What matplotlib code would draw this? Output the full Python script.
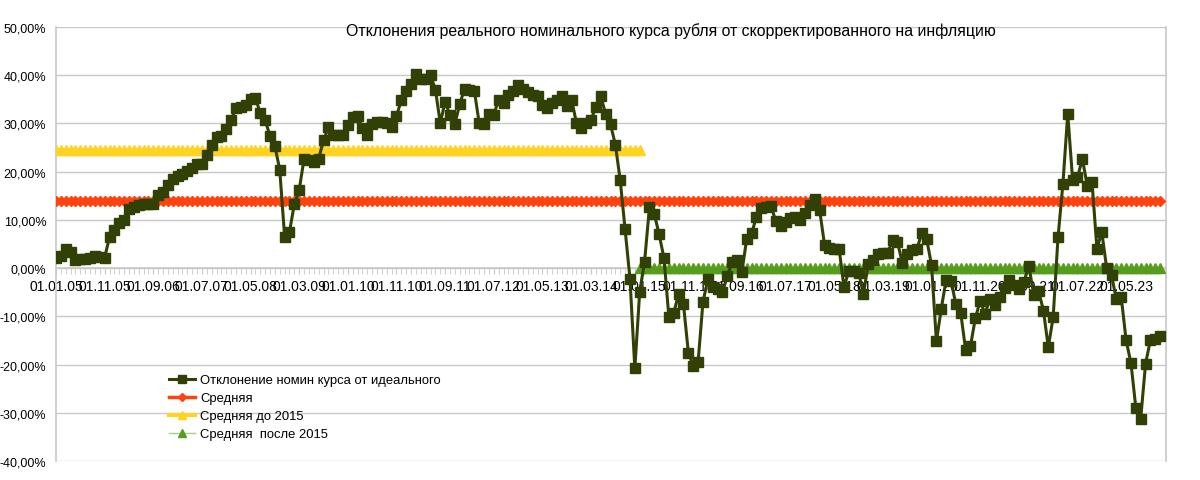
import matplotlib
matplotlib.use("Agg")
import matplotlib.pyplot as plt
import numpy as np

plt.rcParams['font.family'] = ['Liberation Sans', 'DejaVu Sans']

title = "Отклонения реального номинального курса рубля от скорректированного на инфляцию"
series_names = ["Отклонение номин курса от идеального", "Средняя", "Средняя до 2015", "Средняя  после 2015"]

# monthly deviation values, %, from 01.01.05 to 01.12.23
deviation = [
    2.1, 2.6, 3.9, 3.3, 1.7, 1.8, 1.9, 2.1, 2.6, 2.4,
    2.2, 6.4, 7.8, 9.4, 9.9, 12.3, 12.7, 13.0, 13.2, 13.3,
    13.2, 15.2, 15.8, 17.2, 18.4, 19.2, 19.6, 20.1, 20.8, 21.5,
    21.5, 23.5, 25.5, 27.2, 27.4, 28.9, 30.7, 33.1, 33.4, 33.9,
    35.0, 35.2, 32.2, 30.7, 27.4, 25.3, 20.4, 6.5, 7.5, 13.3,
    16.2, 22.7, 22.4, 22.1, 22.7, 26.5, 29.2, 27.7, 27.5, 27.7,
    29.7, 31.4, 31.5, 29.0, 27.6, 29.8, 30.2, 30.4, 30.0, 29.3,
    31.6, 34.8, 36.7, 38.1, 40.2, 39.3, 39.3, 40.0, 37.0, 30.1,
    34.5, 31.7, 29.9, 34.0, 37.2, 37.0, 36.8, 30.1, 29.9, 32.0,
    31.8, 34.9, 34.3, 35.8, 36.7, 38.0, 37.2, 36.6, 36.0, 35.7,
    33.9, 33.2, 34.3, 34.9, 35.6, 33.6, 34.9, 30.1, 29.1, 30.1,
    30.8, 33.4, 35.6, 32.0, 29.8, 25.6, 18.2, 8.1, -2.2, -20.8,
    -4.9, 1.3, 12.6, 11.2, 7.0, 2.0, -10.2, -9.3, -5.3, -7.5,
    -17.5, -20.2, -19.5, -7.1, -2.3, -4.0, -4.4, -5.0, -1.7, 1.3,
    1.7, -0.9, 6.1, 7.2, 10.6, 12.5, 12.6, 12.8, 9.7, 8.7,
    9.5, 10.3, 10.5, 10.0, 11.4, 13.0, 14.3, 12.0, 4.8, 4.1,
    4.0, 4.0, -4.0, -0.5, -0.5, -1.0, -5.3, 0.9, 1.7, 3.0,
    3.2, 3.2, 5.8, 5.4, 1.0, 3.0, 3.8, 4.0, 7.3, 6.0,
    0.6, -15.2, -8.4, -2.4, -2.6, -7.5, -9.3, -16.9, -16.2, -10.4,
    -6.8, -9.5, -6.4, -7.6, -5.9, -4.1, -2.4, -3.5, -4.3, -2.8,
    0.5, -5.5, -4.7, -8.8, -16.4, -10.2, 6.4, 17.4, 32.0, 18.3,
    18.8, 22.7, 17.1, 17.8, 4.0, 7.5, 0.0, -1.5, -6.5, -6.0,
    -15.0, -19.7, -29.0, -31.2, -19.8, -14.9, -14.7, -14.0,
]
mean_all = 14.0
mean_before_2015 = 24.5
mean_after_2015 = 0.0
split_index = 120  # 01.01.15

# month labels dd.mm.yy
months = []
for i in range(len(deviation)):
    y = 2005 + i // 12
    m = i % 12 + 1
    months.append(f"01.{m:02d}.{y % 100:02d}")

x = np.arange(len(deviation))

fig = plt.figure(figsize=(12, 4.81), dpi=100)
ax = fig.add_axes([56/1200, 1 - 462/481, (1166 - 56)/1200, (462 - 28)/481])

c_main = "#314004"
c_red = "#ff420e"
c_yel = "#ffd320"
c_grn = "#579d1c"

ax.plot(x, [mean_all]*len(x), color=c_red, lw=2.5, marker='D', ms=5.5, mec=c_red, mfc=c_red, label=series_names[1], zorder=3)
xb = x[:split_index + 1]
ax.plot(xb, [mean_before_2015]*len(xb), color=c_yel, lw=3, marker='^', ms=6.5, mec=c_yel, mfc=c_yel, label=series_names[2], zorder=3)
xa = x[split_index:]
ax.plot(xa, [mean_after_2015]*len(xa), color="#a6d08a", lw=1, marker='^', ms=6.5, mec=c_grn, mfc=c_grn, label=series_names[3], zorder=3)
ax.plot(x, deviation, color=c_main, lw=2.2, marker='s', ms=7, mec=c_main, mfc=c_main, label=series_names[0], zorder=4)

ax.set_ylim(-40, 50)
ax.set_xlim(0, 228.2)
yt = np.arange(-40, 51, 10)
ax.set_yticks(yt)
ax.set_yticklabels([f"{v:.2f}".replace('.', ',') + "%" for v in yt], fontsize=9)
ax.yaxis.grid(True, color="#c8c8c8", lw=1)
ax.set_axisbelow(True)
ax.tick_params(axis='y', length=0, pad=7)

major = list(range(0, len(deviation), 10))
ax.set_xticks(major)
ax.set_xticklabels([months[i] for i in major], fontsize=8.6)
ax.set_xticks(x, minor=True)
ax.spines['bottom'].set_position(('data', 0))
ax.tick_params(axis='x', which='both', direction='out', length=4, color="#c8c8c8", pad=4)

for s in ['left', 'right', 'bottom']:
    ax.spines[s].set_color("#c8c8c8")
    ax.spines[s].set_linewidth(1.2)
ax.spines['top'].set_visible(False)

fig.text(671/1200, 1 - 31/481, title, ha='center', va='center', fontsize=11.4)

handles, labels = ax.get_legend_handles_labels()
order = [3, 0, 1, 2]
leg = ax.legend([handles[i] for i in order], [labels[i] for i in order],
                loc='upper left', bbox_to_anchor=(108/1110, (462 - 370)/434),
                frameon=False, fontsize=9.4, handlelength=2.0, handletextpad=0.35,
                labelspacing=0.45, borderaxespad=0, markerscale=0.8)

fig.savefig("out.png", dpi=100)
